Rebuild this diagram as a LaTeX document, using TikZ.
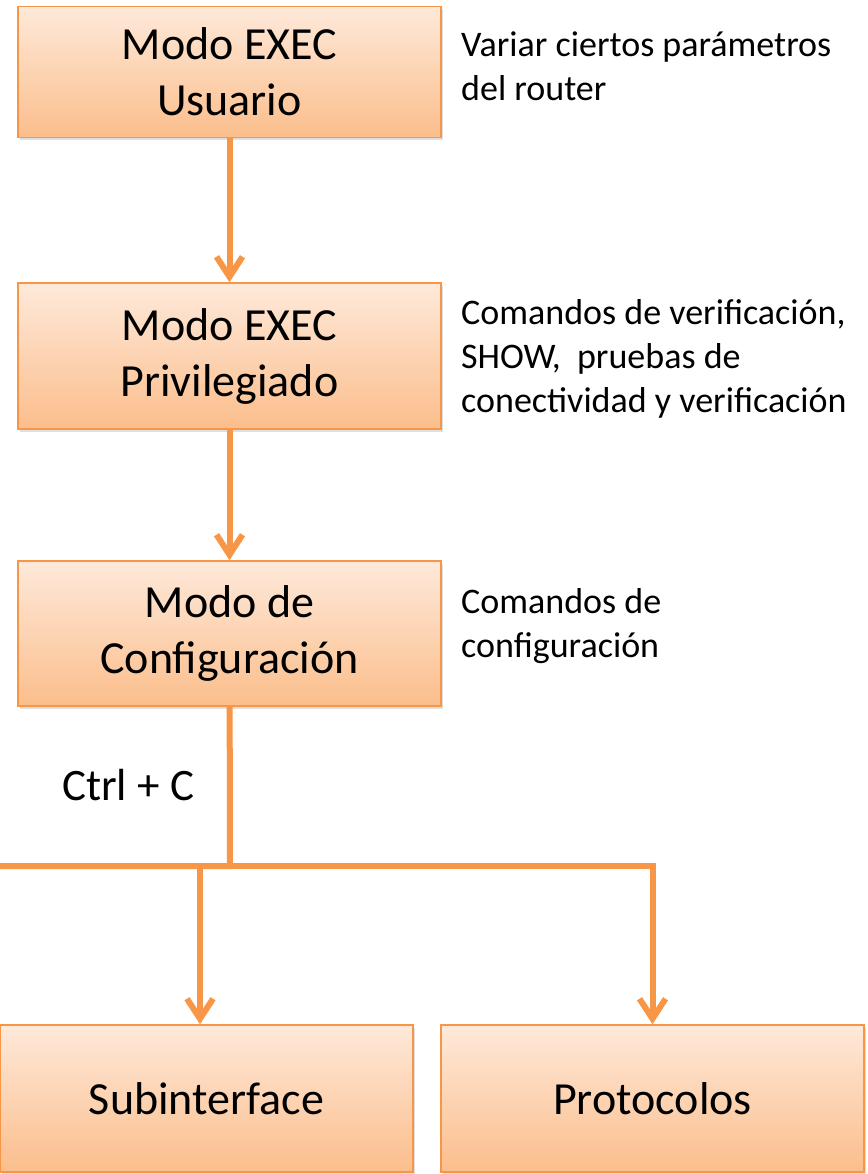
\documentclass[tikz,border=0pt]{standalone}
\usepackage{fontspec}
\setmainfont{Carlito}
\usetikzlibrary{arrows.meta,shadows,positioning}
\definecolor{modeorange}{HTML}{F79646}
\definecolor{modetop}{HTML}{FEE9DA}
\definecolor{modebottom}{HTML}{FBBE8C}

\begin{document}
\begin{tikzpicture}[x=1pt,y=-1pt,
  mode/.style={draw=modeorange,line width=1.5pt,top color=modetop,bottom color=modebottom,
    minimum width=423pt,align=center,inner sep=0pt,font=\fontsize{46}{56}\selectfont,
    drop shadow={opacity=0.25,shadow xshift=2pt,shadow yshift=-3pt}},
  note/.style={anchor=base west,align=left,inner sep=0pt,font=\fontsize{36}{44}\selectfont},
  link/.style={modeorange,line width=6pt},
  tip/.style={-{Straight Barb[length=20pt,width=26pt]}}]
  \useasboundingbox (0,0) rectangle (867,1174);
  % modos
  \node[mode,minimum height=131pt] (usuario) at (229.5,72) {Modo EXEC\\Usuario};
  \node[mode,minimum height=146pt] (privilegiado) at (229.5,356) {Modo EXEC\\Privilegiado};
  \node[mode,minimum height=145pt] (config) at (229.5,633.5) {Modo de\\Configuración};
  \node[mode,minimum width=413pt,minimum height=147pt] (subint) at (206.5,1098.5) {Subinterface};
  \node[mode,minimum height=147pt] (protocolos) at (652.5,1098.5) {Protocolos};
  % notas (base = ultima linea)
  \node[note] (nota1) at (461,101) {Variar ciertos parámetros\\del router};
  \node[note] (nota2) at (461,412) {Comandos de verificación,\\SHOW,\ \ pruebas de\\conectividad y verificación};
  \node[note] (nota3) at (461,657) {Comandos de\\configuración};
  \node[note,font=\fontsize{45}{54}\selectfont] (ctrl) at (62,800) {Ctrl + C};
  % flechas
  \coordinate (split) at (230,866);
  \coordinate (leftend) at (0,866);
  \coordinate (branch) at (200,866);
  \draw[link,tip] (usuario) -- (privilegiado);
  \draw[link,tip] (privilegiado) -- (config);
  \draw[link] (config) -- (split) -- (leftend);
  \draw[link,tip] (branch) -- (branch |- subint.north);
  \draw[link,tip] (split) -- (split -| protocolos) -- (protocolos);
\end{tikzpicture}
\end{document}
